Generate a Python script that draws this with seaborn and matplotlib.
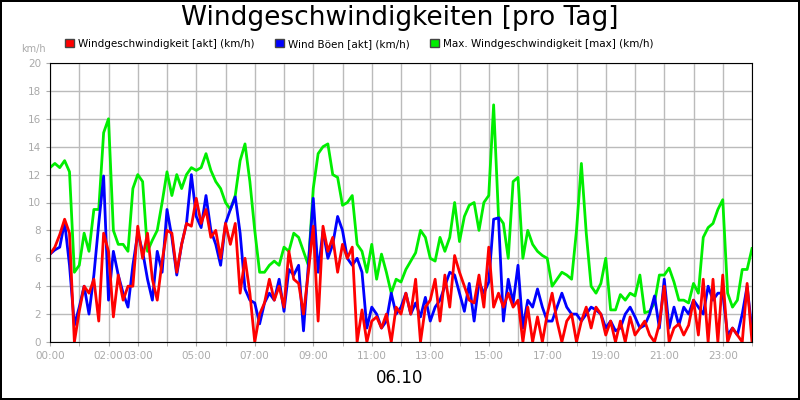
import numpy as np
import pandas as pd
import matplotlib
matplotlib.use("Agg")
import matplotlib.pyplot as plt
from matplotlib.patches import Patch
import seaborn as sns

# 10-minute samples, 00:00 .. 24:00
wind_akt = [
    6.3, 6.8, 7.7, 8.8, 7.8, 0.0,
    2.2, 4.0, 3.5, 4.5, 1.5, 7.8,
    6.5, 1.8, 4.8, 3.0, 4.0, 4.0,
    8.3, 6.0, 7.8, 4.5, 3.0, 5.8,
    8.0, 7.8, 5.0, 7.0, 8.5, 8.3,
    10.3, 8.5, 9.5, 7.5, 8.0, 6.0,
    8.5, 7.0, 8.5, 3.5, 6.0, 3.5,
    0.0, 2.0, 2.8, 4.5, 3.0, 4.0,
    2.5, 6.5, 4.5, 4.2, 2.0, 5.0,
    8.3, 1.5, 8.3, 6.5, 7.5, 5.0,
    7.0, 6.0, 6.8, 0.0, 2.3, 0.0,
    1.5, 1.8, 1.0, 2.0, 0.0, 2.5,
    2.0, 3.5, 2.0, 4.5, 0.0, 2.5,
    3.0, 4.5, 1.5, 4.8, 2.5, 6.2,
    5.0, 4.0, 3.0, 2.8, 4.8, 2.5,
    6.8, 2.5, 3.5, 2.5, 3.5, 2.5,
    3.0, 0.0, 2.5, 0.0, 1.8, 0.0,
    2.0, 3.5, 1.5, 0.0, 1.5, 2.0,
    0.0, 1.5, 2.5, 1.0, 2.5, 2.0,
    0.5, 1.5, 0.0, 1.5, 0.0, 1.8,
    0.5, 1.0, 1.5, 0.5, 0.0, 1.3,
    4.0, 0.0, 1.0, 1.3, 0.5, 1.2,
    3.0, 0.5, 4.5, 0.0, 4.5, 0.0,
    4.8, 0.0, 1.0, 0.5, 0.0, 4.2,
    0.0,
]
wind_boeen = [
    6.3, 6.6, 6.8, 8.6, 5.5, 1.2,
    2.5, 4.0, 2.0, 4.8, 8.5, 11.9,
    3.0, 6.5, 4.8, 3.5, 2.5, 5.5,
    7.8, 6.5, 4.5, 3.0, 6.5, 5.0,
    9.5, 7.5, 4.8, 7.0, 8.5, 12.0,
    9.0, 8.2, 10.5, 8.0, 7.0, 5.5,
    8.5, 9.5, 10.4, 7.8, 3.8, 3.0,
    2.8, 1.3, 2.8, 3.5, 3.0, 4.5,
    2.2, 5.2, 4.8, 5.5, 0.8, 5.5,
    10.3, 5.0, 8.0, 6.0, 7.0, 9.0,
    8.0, 6.0, 5.5, 6.0, 5.0, 1.0,
    2.5, 2.0, 1.0, 1.5, 3.5, 2.0,
    2.5, 3.5, 2.0, 2.8, 1.8, 3.2,
    1.5, 2.5, 3.0, 4.0, 5.0, 4.8,
    3.5, 2.2, 4.2, 1.5, 4.3, 3.5,
    4.3, 8.8, 8.9, 1.5, 4.5, 2.8,
    5.5, 1.0, 3.0, 2.5, 3.8, 2.5,
    1.5, 1.5, 2.5, 3.5, 2.5, 2.0,
    2.0, 1.5, 2.0, 2.5, 2.3, 2.0,
    1.0, 1.5, 0.8, 1.0, 2.0, 2.5,
    1.8, 1.0, 1.2, 2.0, 3.3, 1.0,
    4.5, 1.0, 2.5, 1.2, 2.5, 2.0,
    3.0, 2.5, 2.0, 4.0, 3.0, 3.5,
    3.5, 0.5, 1.0, 0.5, 2.0, 4.0,
    0.8,
]
wind_max = [
    12.5, 12.8, 12.5, 13.0, 12.2, 5.0,
    5.5, 7.8, 6.5, 9.5, 9.5, 15.0,
    16.0, 8.0, 7.0, 7.0, 6.5, 11.0,
    12.0, 11.5, 6.5, 7.3, 8.0, 10.0,
    12.2, 10.5, 12.0, 11.0, 12.0, 12.5,
    12.3, 12.5, 13.5, 12.3, 11.5, 11.0,
    10.0, 9.5, 10.5, 13.0, 14.2, 11.5,
    8.0, 5.0, 5.0, 5.5, 5.8, 5.5,
    6.8, 6.5, 7.8, 7.5, 6.5, 5.5,
    11.0, 13.5, 14.0, 14.2, 12.0, 11.8,
    9.8, 10.0, 10.5, 7.0, 6.5, 5.0,
    7.0, 4.5, 6.3, 5.0, 3.5, 4.5,
    4.3, 5.2, 5.8, 6.4, 8.0, 7.5,
    6.0, 5.8, 7.5, 6.5, 7.5, 10.0,
    7.2, 9.0, 9.8, 10.0, 8.0, 10.0,
    10.5, 17.0, 9.0, 8.5, 6.0, 11.5,
    11.8, 6.0, 8.0, 7.0, 6.5, 6.2,
    6.0, 4.0, 4.5, 5.0, 4.8, 4.5,
    8.0, 12.8, 7.8, 4.0, 3.5, 4.2,
    6.0, 2.3, 2.3, 3.4, 3.0, 3.5,
    3.3, 4.8, 2.1, 2.2, 2.8, 4.8,
    4.8, 5.3, 4.3, 3.0, 3.0, 2.8,
    4.2, 3.5, 7.5, 8.2, 8.5, 9.5,
    10.2, 3.5, 2.5, 3.0, 5.2, 5.2,
    6.7,
]
series_names = ["Windgeschwindigkeit [akt] (km/h)", "Wind Böen [akt] (km/h)",
                "Max. Windgeschwindigkeit [max] (km/h)"]
series_colors = ["#ff0000", "#0000ff", "#00ee00"]
tick_hours = [0, 2, 3, 5, 7, 9, 11, 13, 15, 17, 19, 21, 23]
date_label = "06.10"

hours = np.arange(len(wind_akt)) / 6.0
df = pd.concat([
    pd.DataFrame({"h": hours, "v": wind_max, "s": series_names[2]}),
    pd.DataFrame({"h": hours, "v": wind_boeen, "s": series_names[1]}),
    pd.DataFrame({"h": hours, "v": wind_akt, "s": series_names[0]}),
])

fig = plt.figure(figsize=(8, 4), dpi=100)
fig.patch.set_edgecolor("black")
fig.patch.set_linewidth(1.5)
ax = fig.add_axes([0.0625, 0.145, 0.8775, 0.6975])
sns.lineplot(data=df, x="h", y="v", hue="s", palette=dict(zip(series_names, series_colors)),
             hue_order=[series_names[2], series_names[1], series_names[0]],
             linewidth=2, legend=False, ax=ax)
ax.set_xlim(0, 24)
ax.set_ylim(0, 20)
ax.set_xticks(range(25), minor=True)
ax.set_xticks(tick_hours)
ax.set_xticklabels([f"{h:02d}:00" for h in tick_hours])
ax.set_yticks(range(0, 21, 2))
ax.grid(True, which="both", axis="x", color="#bbbbbb", linewidth=1)
ax.grid(True, axis="y", color="#bbbbbb", linewidth=1)
ax.set_axisbelow(True)
ax.tick_params(axis="both", which="both", colors="#aaaaaa", labelsize=7.5, length=3)
ax.tick_params(axis="x", which="minor", length=3)
for sp in ax.spines.values():
    sp.set_color("black")
ax.set_xlabel("")
ax.set_ylabel("")

fig.text(0.5, 0.955, "Windgeschwindigkeiten [pro Tag]", ha="center", va="center", fontsize=19)
fig.text(0.027, 0.878, "km/h", ha="left", va="center", fontsize=7, color="#aaaaaa")
fig.text(0.5, 0.055, date_label, ha="center", va="center", fontsize=12)
handles = [Patch(facecolor=c, edgecolor="#444444") for c in series_colors]
fig.legend(handles, series_names, loc="center left", bbox_to_anchor=(0.07, 0.89), ncol=3,
           frameon=False, fontsize=7.5, handlelength=0.8, handleheight=0.8,
           handletextpad=0.4, columnspacing=2.0)

fig.savefig("out.png", dpi=100)
